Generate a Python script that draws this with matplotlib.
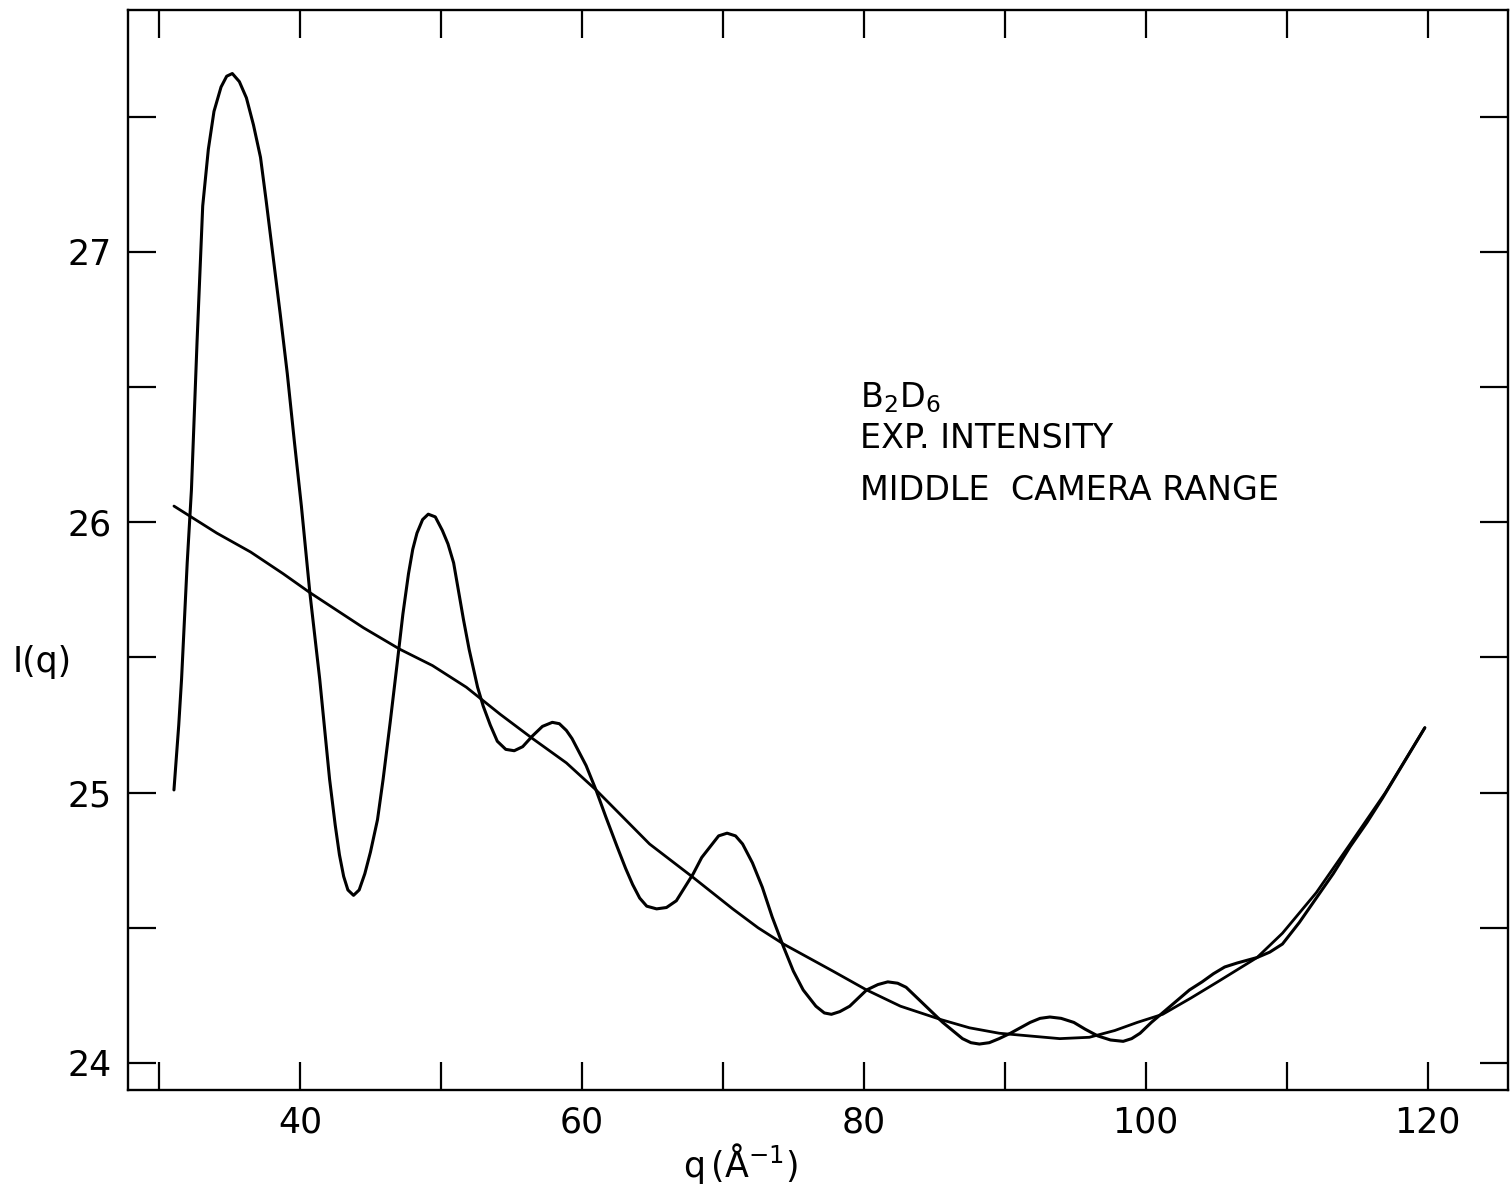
import matplotlib.pyplot as plt

# smooth background curve
q_bg = [31.06, 34.1, 36.5, 38.8, 40.7, 42.6, 44.5, 47.1, 49.4, 51.8, 54.2, 56.5, 58.9,
        61.0, 62.9, 64.8, 66.3, 67.8, 70.7, 72.5, 74.3, 77.8, 80.2, 82.6, 85.5, 87.5,
        89.6, 93.9, 96.0, 97.8, 99.4, 101.2, 103.2, 105.1, 107.9, 109.7, 112.1, 114.5,
        117.0, 119.8]
i_bg = [26.06, 25.96, 25.89, 25.81, 25.74, 25.675, 25.61, 25.53, 25.47, 25.39, 25.29, 25.20, 25.11,
        25.01, 24.91, 24.81, 24.75, 24.69, 24.57, 24.50, 24.44, 24.34, 24.27, 24.21, 24.16, 24.13,
        24.11, 24.09, 24.095, 24.12, 24.15, 24.18, 24.24, 24.30, 24.39, 24.48, 24.63, 24.81,
        25.00, 25.24]

q_exp = [31.06, 31.4, 31.6, 32.0, 32.3, 32.7, 33.1, 33.5, 33.9, 34.4, 34.8, 35.2,
         35.7, 36.2, 36.7, 37.2, 37.6, 38.1, 38.6, 39.1, 39.6, 40.1, 40.7, 41.4,
         42.1, 42.5, 42.8, 43.1, 43.4, 43.8, 44.2, 44.6, 45.0, 45.5, 45.9, 46.4,
         46.9, 47.3, 47.7, 48.0, 48.3, 48.7, 49.1, 49.6, 50.1, 50.5, 50.9, 51.2,
         51.6, 52.0, 52.3, 52.6, 53.0, 53.5, 54.0, 54.6, 55.2, 55.8, 56.5, 57.2,
         57.9, 58.4, 58.9, 59.3, 59.6, 60.3, 61.0, 61.7, 62.5, 63.1, 63.6, 64.1,
         64.6, 65.3, 66.0, 66.7, 67.3, 67.9, 68.5, 69.1, 69.7, 70.3, 70.9, 71.4,
         72.1, 72.8, 73.5, 74.3, 75.0, 75.7, 76.6, 77.2, 77.7, 78.3, 79.0, 79.6,
         80.2, 81.0, 81.7, 82.4, 83.0, 83.6, 84.2, 84.9, 85.6, 86.3, 87.0, 87.6,
         88.2, 88.9, 89.6, 90.4, 91.1, 91.8, 92.5, 93.2, 94.0, 94.9, 95.7, 96.6,
         97.5, 98.4, 99.0, 99.6, 100.4, 101.3, 102.2, 103.1, 104.0, 104.8, 105.6, 106.5,
         107.2, 107.9, 108.8, 109.7, 110.9, 112.1, 113.3, 114.5, 115.7, 116.8, 118.3, 119.8]
i_exp = [25.01, 25.25, 25.42, 25.85, 26.12, 26.67, 27.17, 27.38, 27.52, 27.61, 27.65, 27.66,
         27.63, 27.57, 27.47, 27.35, 27.19, 26.98, 26.77, 26.55, 26.30, 26.06, 25.74, 25.42,
         25.05, 24.88, 24.77, 24.69, 24.64, 24.62, 24.64, 24.70, 24.78, 24.90, 25.05, 25.26,
         25.48, 25.66, 25.81, 25.90, 25.96, 26.01, 26.03, 26.02, 25.97, 25.92, 25.85, 25.76,
         25.64, 25.53, 25.46, 25.39, 25.32, 25.25, 25.19, 25.16, 25.155, 25.17, 25.21, 25.245,
         25.26, 25.255, 25.23, 25.20, 25.17, 25.10, 25.01, 24.91, 24.80, 24.72, 24.66, 24.61,
         24.58, 24.57, 24.575, 24.60, 24.65, 24.70, 24.76, 24.80, 24.84, 24.85, 24.84, 24.81,
         24.74, 24.65, 24.54, 24.43, 24.34, 24.27, 24.21, 24.185, 24.18, 24.19, 24.21, 24.24,
         24.27, 24.29, 24.30, 24.295, 24.28, 24.25, 24.22, 24.185, 24.15, 24.12, 24.09, 24.075,
         24.07, 24.075, 24.09, 24.11, 24.13, 24.15, 24.165, 24.17, 24.165, 24.15, 24.125, 24.10,
         24.085, 24.08, 24.09, 24.11, 24.15, 24.19, 24.23, 24.27, 24.30, 24.33, 24.355, 24.37,
         24.38, 24.39, 24.41, 24.44, 24.52, 24.61, 24.70, 24.80, 24.89, 24.98, 25.11, 25.24]

x_major = [40, 60, 80, 100, 120]
x_minor = [30, 50, 70, 90, 110]
y_major = [24, 25, 26, 27]
y_minor = [24.5, 25.5, 26.5, 27.5]

plt.rcParams['font.family'] = 'DejaVu Sans'
plt.rcParams['font.size'] = 25

W, H = 1510, 1192
fig = plt.figure(figsize=(W / 100, H / 100), dpi=100)
ax = fig.add_axes([128 / W, 1 - 1090 / H, 1380 / W, 1080 / H])

ax.plot(q_exp, i_exp, color='black', lw=2.2, solid_joinstyle='round', solid_capstyle='round')
ax.plot(q_bg, i_bg, color='black', lw=2.0, solid_joinstyle='round', solid_capstyle='round')

ax.set_xlim(27.8, 125.7)
ax.set_ylim(23.90, 27.895)
ax.set_xticks(x_major)
ax.set_xticks(x_minor, minor=True)
ax.set_yticks(y_major)
ax.set_yticks(y_minor, minor=True)
ax.tick_params(which='both', direction='in', top=True, right=True,
               length=20, width=1.6, color='black')
ax.tick_params(axis='x', pad=11)
ax.tick_params(axis='y', pad=12)
for s in ax.spines.values():
    s.set_linewidth(1.7)

fig.text(740 / W, 1 - 1163 / H, r'q$\,$(Å$^{-1}$)', ha='center', va='center')
fig.text(42 / W, 1 - 662 / H, 'I(q)', ha='center', va='center')

fig.text(860 / W, 1 - 407 / H, r'B$_2$D$_6$', ha='left', va='baseline', fontsize=24)
fig.text(860 / W, 1 - 448 / H, 'EXP. INTENSITY', ha='left', va='baseline', fontsize=24)
fig.text(860 / W, 1 - 500 / H, 'MIDDLE  CAMERA RANGE', ha='left', va='baseline', fontsize=24)

plt.savefig('out.png', dpi=100)
